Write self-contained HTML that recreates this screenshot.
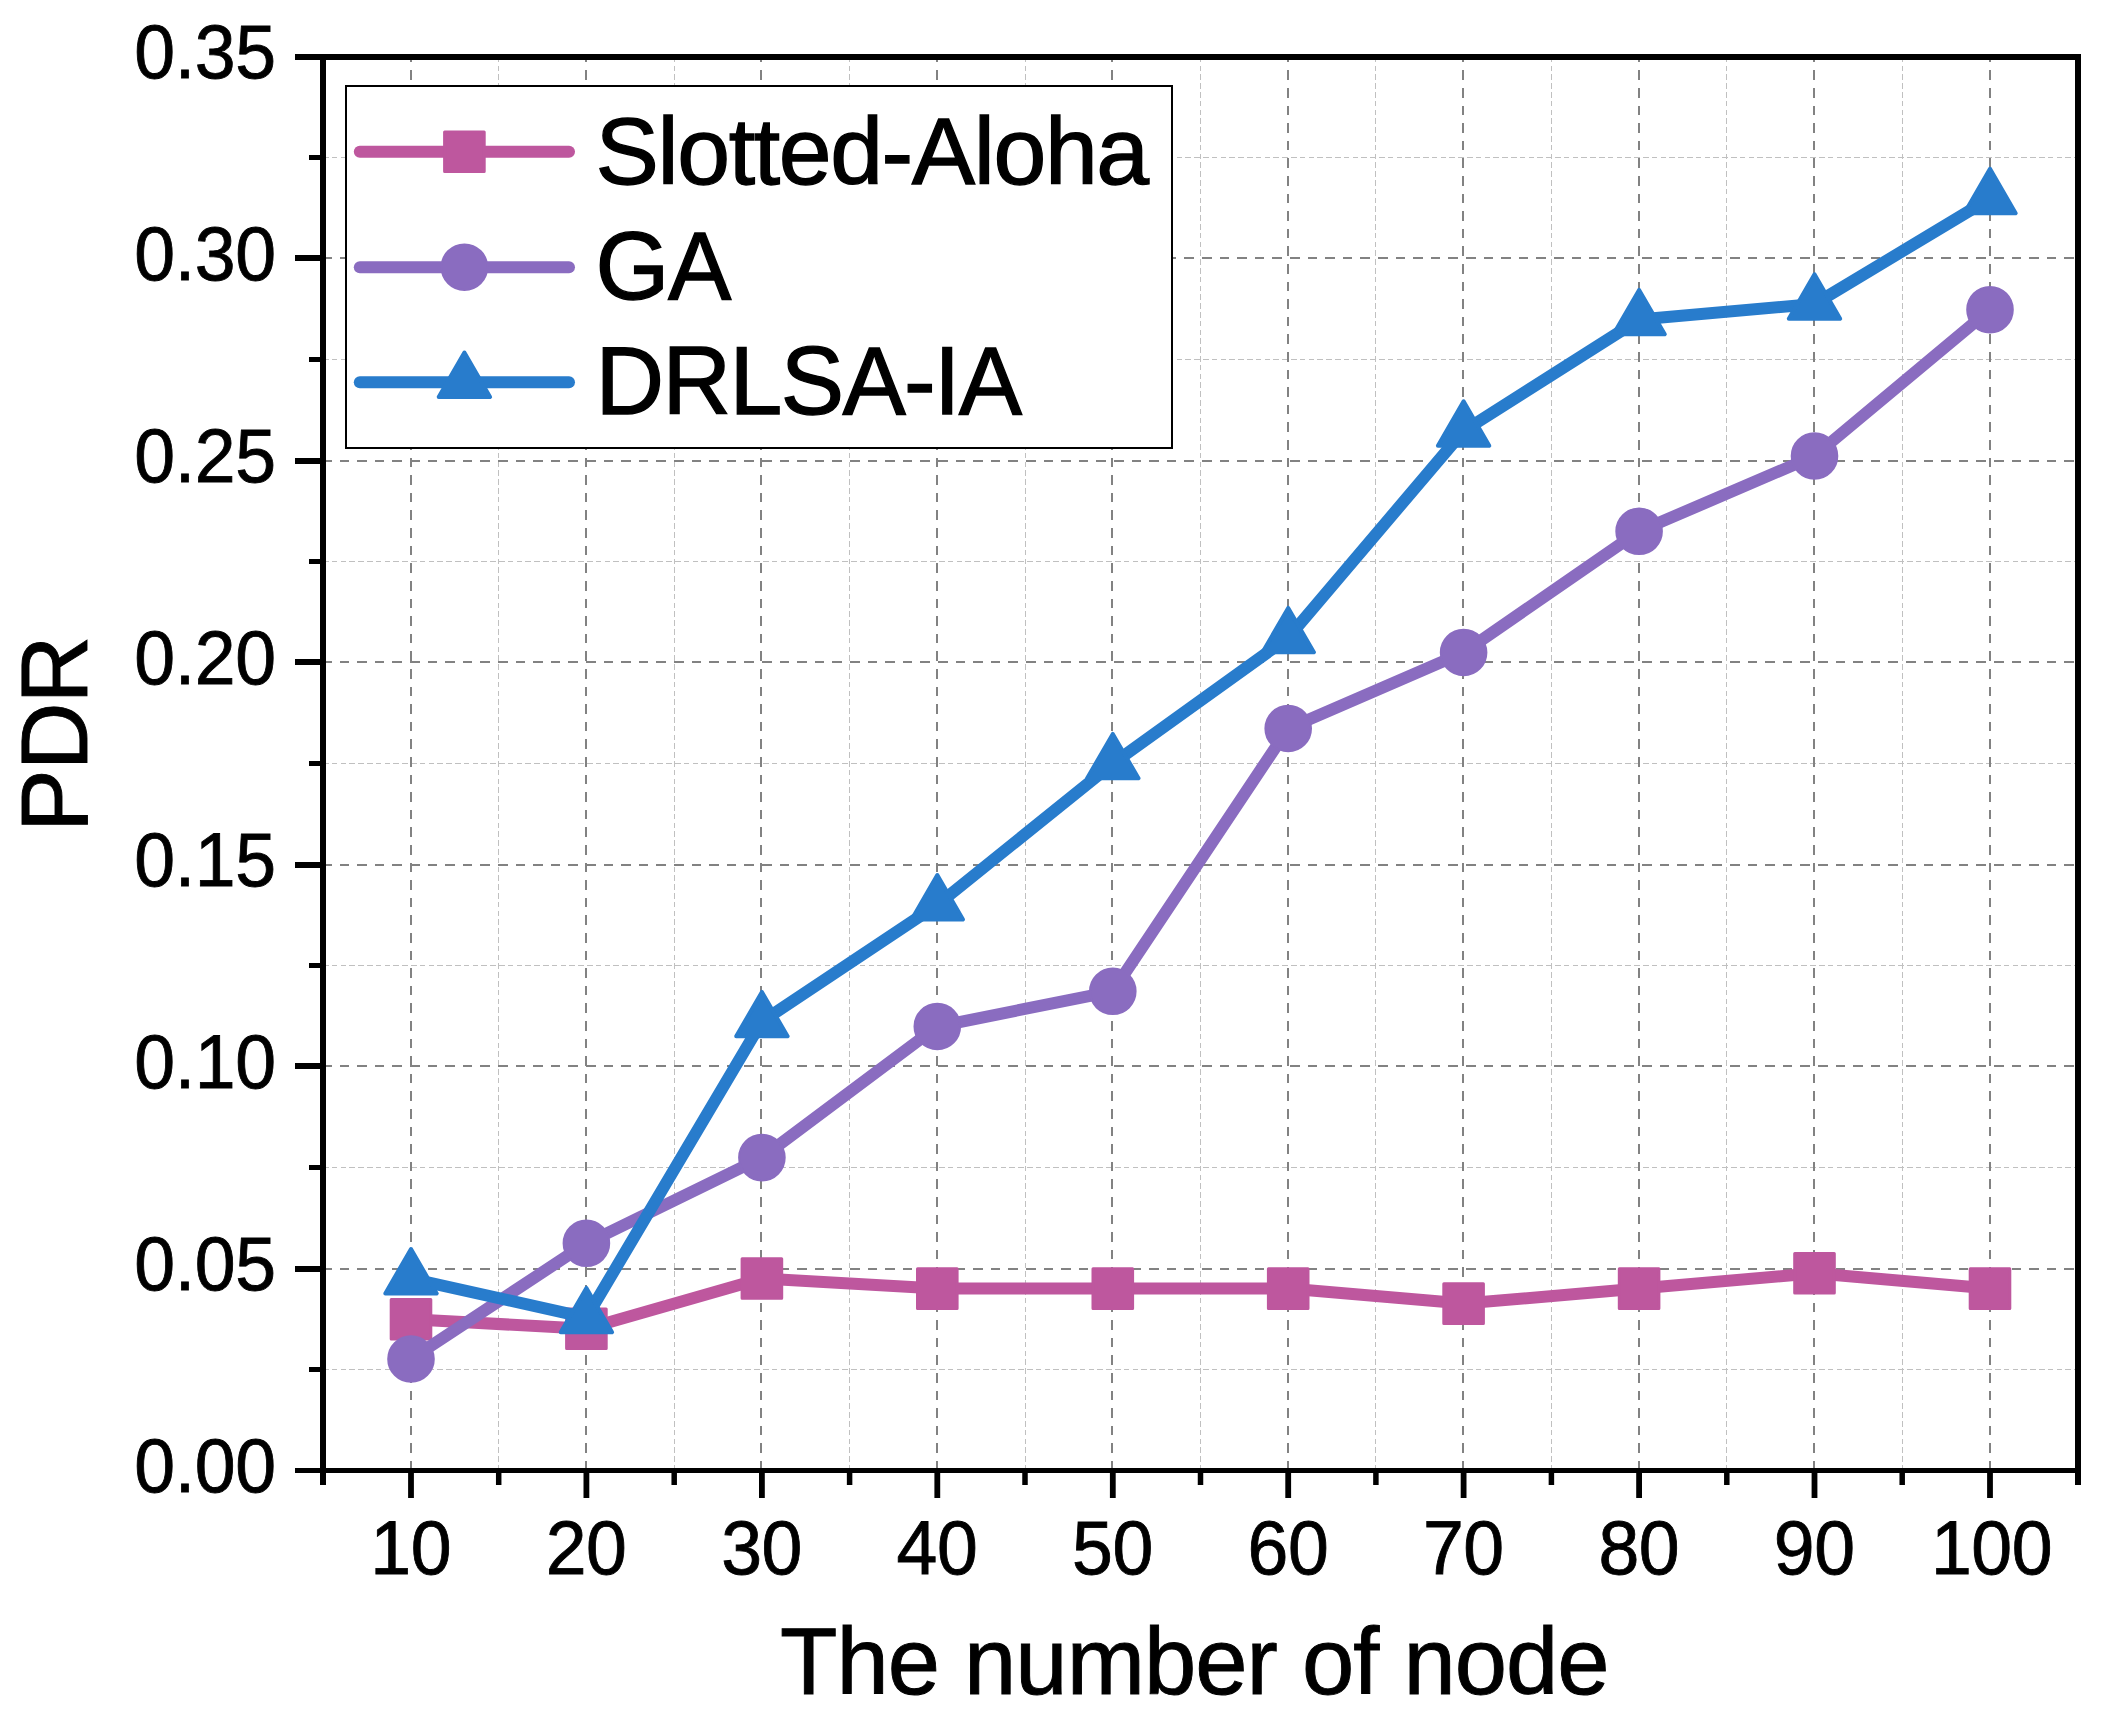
<!DOCTYPE html>
<html lang="en"><head><meta charset="utf-8"><title>PDR vs number of node</title>
<style>html,body{margin:0;padding:0;background:#fff}body{width:2101px;height:1718px;overflow:hidden}svg{display:block}text{font-family:"Liberation Sans",Arial,Helvetica,sans-serif;fill:#000;font-kerning:none;stroke:#000;stroke-linejoin:miter}.tk{font-size:73.4px;letter-spacing:-0.4px;stroke-width:.8px}.ti{font-size:94px;letter-spacing:-1px;stroke-width:.9px}.lg{font-size:95px;letter-spacing:-1.4px;stroke-width:1.3px}</style></head><body>
<svg width="2101" height="1718" viewBox="0 0 2101 1718">
<rect width="2101" height="1718" fill="#fff"/>
<g stroke="#c0c0c0" stroke-width="1" stroke-dasharray="5.6 3.2" fill="none" shape-rendering="crispEdges">
<path d="M498.5 1470.5V57.0"/>
<path d="M674.5 1470.5V57.0"/>
<path d="M849.5 1470.5V57.0"/>
<path d="M1025.5 1470.5V57.0"/>
<path d="M1200.5 1470.5V57.0"/>
<path d="M1375.5 1470.5V57.0"/>
<path d="M1551.5 1470.5V57.0"/>
<path d="M1726.5 1470.5V57.0"/>
<path d="M1902.5 1470.5V57.0"/>
<path d="M323.0 1369.5H2078.0"/>
<path d="M323.0 1167.5H2078.0"/>
<path d="M323.0 965.5H2078.0"/>
<path d="M323.0 763.5H2078.0"/>
<path d="M323.0 561.5H2078.0"/>
<path d="M323.0 359.5H2078.0"/>
<path d="M323.0 157.5H2078.0"/>
</g>
<g stroke="#828282" stroke-width="2" stroke-dasharray="9.6 8" fill="none" shape-rendering="crispEdges">
<path d="M411.0 1470.5V57.0"/>
<path d="M586.0 1470.5V57.0"/>
<path d="M761.0 1470.5V57.0"/>
<path d="M937.0 1470.5V57.0"/>
<path d="M1112.0 1470.5V57.0"/>
<path d="M1288.0 1470.5V57.0"/>
<path d="M1463.0 1470.5V57.0"/>
<path d="M1639.0 1470.5V57.0"/>
<path d="M1814.0 1470.5V57.0"/>
<path d="M1990.0 1470.5V57.0"/>
<path d="M322.0 1269.0H2078.0"/>
<path d="M322.0 1066.0H2078.0"/>
<path d="M322.0 865.0H2078.0"/>
<path d="M322.0 662.0H2078.0"/>
<path d="M322.0 461.0H2078.0"/>
<path d="M322.0 258.0H2078.0"/>
</g>
<g fill="#be579e" stroke="#be579e" stroke-linejoin="round" stroke-linecap="round">
<polyline points="411.0,1319.2 586.4,1328.8 761.9,1278.5 937.3,1288.6 1112.8,1288.6 1288.2,1288.6 1463.6,1303.6 1639.1,1288.6 1814.5,1273.2 1990.0,1288.6" fill="none" stroke-width="12"/>
<rect x="391.2" y="1299.4" width="39.6" height="39.6" stroke-width="3"/>
<rect x="566.6" y="1309.0" width="39.6" height="39.6" stroke-width="3"/>
<rect x="742.1" y="1258.7" width="39.6" height="39.6" stroke-width="3"/>
<rect x="917.5" y="1268.8" width="39.6" height="39.6" stroke-width="3"/>
<rect x="1093.0" y="1268.8" width="39.6" height="39.6" stroke-width="3"/>
<rect x="1268.4" y="1268.8" width="39.6" height="39.6" stroke-width="3"/>
<rect x="1443.8" y="1283.8" width="39.6" height="39.6" stroke-width="3"/>
<rect x="1619.3" y="1268.8" width="39.6" height="39.6" stroke-width="3"/>
<rect x="1794.7" y="1253.4" width="39.6" height="39.6" stroke-width="3"/>
<rect x="1970.2" y="1268.8" width="39.6" height="39.6" stroke-width="3"/>
</g>
<g fill="#8a6cc0" stroke="#8a6cc0" stroke-linejoin="round" stroke-linecap="round">
<polyline points="411.0,1359.0 586.4,1243.3 761.9,1157.6 937.3,1026.5 1112.8,991.3 1288.2,728.5 1463.6,652.5 1639.1,531.3 1814.5,456.0 1990.0,309.7" fill="none" stroke-width="12"/>
<circle cx="411.0" cy="1359.0" r="22.8" stroke-width="2"/>
<circle cx="586.4" cy="1243.3" r="22.8" stroke-width="2"/>
<circle cx="761.9" cy="1157.6" r="22.8" stroke-width="2"/>
<circle cx="937.3" cy="1026.5" r="22.8" stroke-width="2"/>
<circle cx="1112.8" cy="991.3" r="22.8" stroke-width="2"/>
<circle cx="1288.2" cy="728.5" r="22.8" stroke-width="2"/>
<circle cx="1463.6" cy="652.5" r="22.8" stroke-width="2"/>
<circle cx="1639.1" cy="531.3" r="22.8" stroke-width="2"/>
<circle cx="1814.5" cy="456.0" r="22.8" stroke-width="2"/>
<circle cx="1990.0" cy="309.7" r="22.8" stroke-width="2"/>
</g>
<g fill="#287ccc" stroke="#287ccc" stroke-linejoin="round" stroke-linecap="round">
<polyline points="411.0,1278.7 586.4,1317.6 761.9,1021.6 937.3,904.8 1112.8,763.6 1288.2,637.6 1463.6,431.0 1639.1,319.6 1814.5,304.0 1990.0,198.5" fill="none" stroke-width="12"/>
<path d="M411.0 1249.0L436.7 1293.4H385.3Z" stroke-width="4"/>
<path d="M586.4 1287.9L612.1 1332.3H560.7Z" stroke-width="4"/>
<path d="M761.9 991.9L787.6 1036.3H736.2Z" stroke-width="4"/>
<path d="M937.3 875.1L963.0 919.5H911.6Z" stroke-width="4"/>
<path d="M1112.8 733.9L1138.5 778.3H1087.1Z" stroke-width="4"/>
<path d="M1288.2 607.9L1313.9 652.3H1262.5Z" stroke-width="4"/>
<path d="M1463.6 401.3L1489.3 445.7H1437.9Z" stroke-width="4"/>
<path d="M1639.1 289.9L1664.8 334.3H1613.4Z" stroke-width="4"/>
<path d="M1814.5 274.3L1840.2 318.7H1788.8Z" stroke-width="4"/>
<path d="M1990.0 168.8L2015.7 213.2H1964.3Z" stroke-width="4"/>
</g>
<g stroke="#000" fill="none">
<path d="M295 57H2081" stroke-width="6"/><path d="M295 1470.5H2081" stroke-width="5"/>
<path d="M323 54V1485M2078 54V1485" stroke-width="6"/>
<path d="M295 1269H323" stroke-width="6"/>
<path d="M295 1066H323" stroke-width="6"/>
<path d="M295 865H323" stroke-width="6"/>
<path d="M295 662H323" stroke-width="6"/>
<path d="M295 461H323" stroke-width="6"/>
<path d="M295 258H323" stroke-width="6"/>
<path d="M309 1369.5H323" stroke-width="5"/>
<path d="M309 1167.5H323" stroke-width="5"/>
<path d="M309 965.5H323" stroke-width="5"/>
<path d="M309 763.5H323" stroke-width="5"/>
<path d="M309 561.5H323" stroke-width="5"/>
<path d="M309 359.5H323" stroke-width="5"/>
<path d="M309 157.5H323" stroke-width="5"/>
<path d="M411.0 1470V1498" stroke-width="5.8"/>
<path d="M586.4 1470V1498" stroke-width="5.8"/>
<path d="M761.9 1470V1498" stroke-width="5.8"/>
<path d="M937.3 1470V1498" stroke-width="5.8"/>
<path d="M1112.8 1470V1498" stroke-width="5.8"/>
<path d="M1288.2 1470V1498" stroke-width="5.8"/>
<path d="M1463.6 1470V1498" stroke-width="5.8"/>
<path d="M1639.1 1470V1498" stroke-width="5.8"/>
<path d="M1814.5 1470V1498" stroke-width="5.8"/>
<path d="M1990.0 1470V1498" stroke-width="5.8"/>
<path d="M498.7 1470V1485" stroke-width="5.5"/>
<path d="M674.2 1470V1485" stroke-width="5.5"/>
<path d="M849.6 1470V1485" stroke-width="5.5"/>
<path d="M1025.0 1470V1485" stroke-width="5.5"/>
<path d="M1200.5 1470V1485" stroke-width="5.5"/>
<path d="M1375.9 1470V1485" stroke-width="5.5"/>
<path d="M1551.4 1470V1485" stroke-width="5.5"/>
<path d="M1726.8 1470V1485" stroke-width="5.5"/>
<path d="M1902.2 1470V1485" stroke-width="5.5"/>
</g>
<g class="tk" text-anchor="end">
<text transform="translate(275.6 1491.6) scale(1 1.04)">0.00</text>
<text transform="translate(275.6 1289.7) scale(1 1.04)">0.05</text>
<text transform="translate(275.6 1087.8) scale(1 1.04)">0.10</text>
<text transform="translate(275.6 885.9) scale(1 1.04)">0.15</text>
<text transform="translate(275.6 684.0) scale(1 1.04)">0.20</text>
<text transform="translate(275.6 482.1) scale(1 1.04)">0.25</text>
<text transform="translate(275.6 280.2) scale(1 1.04)">0.30</text>
<text transform="translate(275.6 78.3) scale(1 1.04)">0.35</text>
</g>
<g class="tk" text-anchor="middle">
<text transform="translate(410.7 1574.4) scale(1 1.04)">10</text>
<text transform="translate(586.1 1574.4) scale(1 1.04)">20</text>
<text transform="translate(761.6 1574.4) scale(1 1.04)">30</text>
<text transform="translate(937.0 1574.4) scale(1 1.04)">40</text>
<text transform="translate(1112.5 1574.4) scale(1 1.04)">50</text>
<text transform="translate(1287.9 1574.4) scale(1 1.04)">60</text>
<text transform="translate(1463.3 1574.4) scale(1 1.04)">70</text>
<text transform="translate(1638.8 1574.4) scale(1 1.04)">80</text>
<text transform="translate(1814.2 1574.4) scale(1 1.04)">90</text>
<text transform="translate(1991.5 1574.4) scale(1 1.04)">100</text>
</g>
<text class="ti" x="780" y="1693.5">The number of node</text>
<text class="ti" transform="translate(87 832) rotate(-90)">PDR</text>
<rect x="346" y="86" width="826" height="362" fill="#fff" stroke="#000" stroke-width="2" shape-rendering="crispEdges"/>
<g fill="#be579e" stroke="#be579e" stroke-linejoin="round" stroke-linecap="round">
<path d="M359.8 151.8H569" fill="none" stroke-width="12"/>
<rect x="444.6" y="132.0" width="39.6" height="39.6" stroke-width="3"/>
</g>
<text class="lg" transform="translate(595.6 184.4) scale(1 1)">Slotted-Aloha</text>
<g fill="#8a6cc0" stroke="#8a6cc0" stroke-linejoin="round" stroke-linecap="round">
<path d="M359.8 267.2H569" fill="none" stroke-width="12"/>
<circle cx="464.4" cy="267.2" r="22.8" stroke-width="2"/>
</g>
<text class="lg" transform="translate(595.6 298.5) scale(1 1.015)">GA</text>
<g fill="#287ccc" stroke="#287ccc" stroke-linejoin="round" stroke-linecap="round">
<path d="M359.8 382.3H569" fill="none" stroke-width="12"/>
<path d="M464.4 352.6L490.1 397.0H438.7Z" stroke-width="4"/>
</g>
<text class="lg" transform="translate(595.6 413.5) scale(1 1.015)" style="letter-spacing:-1.65px">DRLSA-IA</text>
</svg></body></html>
